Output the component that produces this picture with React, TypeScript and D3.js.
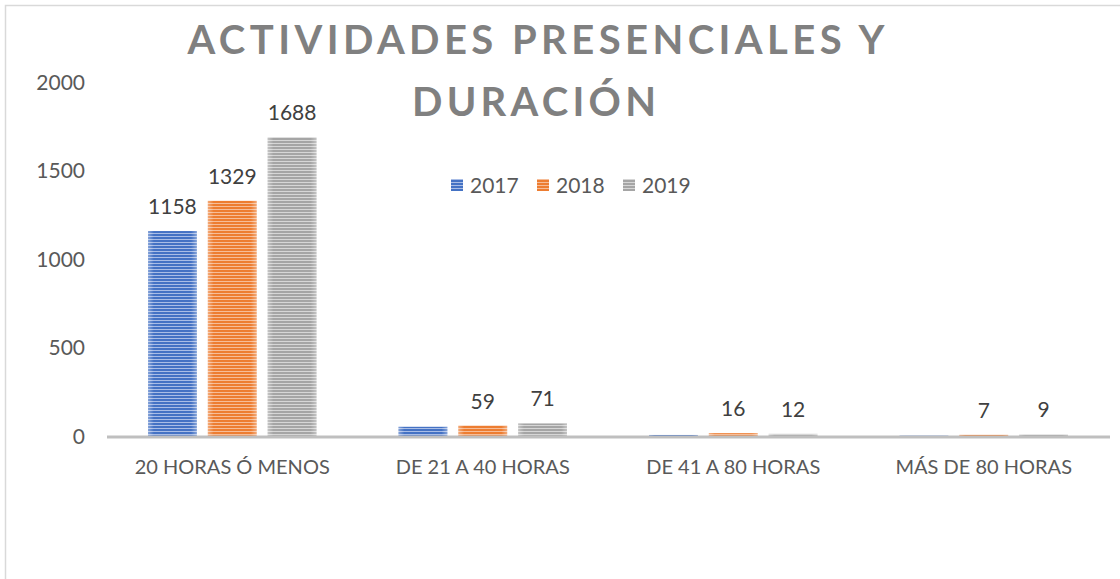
import React from "react";
import * as d3 from "d3";

const categories = ["20 HORAS Ó MENOS", "DE 21 A 40 HORAS", "DE 41 A 80 HORAS", "MÁS DE 80 HORAS"];
const seriesNames = ["2017", "2018", "2019"];
const values2017 = [1158, 52, 6, 2];
const values2018 = [1329, 59, 16, 7];
const values2019 = [1688, 71, 12, 9];
const showLabels2017 = [true, false, false, false];
const yTicks = [0, 500, 1000, 1500, 2000];
const titleLines = ["ACTIVIDADES PRESENCIALES Y", "DURACIÓN"];

const colors = ["#4472c4", "#ed7d31", "#a5a5a5"];
const lightColors = ["#a9bde6", "#f6bd98", "#d6d6d6"];

export default function App() {
  const W = 1120, H = 579;
  const x0 = d3.scaleBand<string>().domain(categories).range([107, 1109]).paddingInner(0).paddingOuter(0);
  const band = x0.bandwidth();
  const x1 = d3.scaleBand<string>().domain(seriesNames).range([41, band - 41]).paddingInner(11 / 60).paddingOuter(0);
  const y = d3.scaleLinear().domain([0, 2000]).range([436, 82]);
  const series = [values2017, values2018, values2019];
  const labelShown = [showLabels2017, categories.map(() => true), categories.map(() => true)];
  const font = "Lato, 'Open Sans', sans-serif";
  const textColor = "#595959";

  return (
    <svg width={W} height={H} style={{ position: "absolute", left: 0, top: 0, background: "#fff" }}>
      <defs>
        {colors.map((c, i) => (
          <pattern key={i} id={`stripe${i}`} width={4} height={3} patternUnits="userSpaceOnUse">
            <rect width={4} height={3} fill={c} />
            <rect y={2} width={4} height={1} fill={lightColors[i]} />
          </pattern>
        ))}
        <linearGradient id="edge" x1="0" x2="1" y1="0" y2="0">
          <stop offset="0" stopColor="#fff" stopOpacity={0.35} />
          <stop offset="0.12" stopColor="#fff" stopOpacity={0} />
          <stop offset="0.88" stopColor="#fff" stopOpacity={0} />
          <stop offset="1" stopColor="#fff" stopOpacity={0.35} />
        </linearGradient>
      </defs>
      <rect x={5.5} y={5.5} width={W + 20} height={H + 20} fill="#fff" stroke="#d9d9d9" strokeWidth={1.5} />

      {/* title */}
      <text x={536} y={54} textAnchor="middle" fontFamily={font} fontWeight={700} fontSize={40} fill="#808080"
        textLength={697} lengthAdjust="spacing">{titleLines[0]}</text>
      <text x={534} y={116} textAnchor="middle" fontFamily={font} fontWeight={700} fontSize={40} fill="#808080"
        textLength={244} lengthAdjust="spacing">{titleLines[1]}</text>

      {/* y tick labels */}
      {yTicks.map((t) => (
        <text key={t} x={85} y={y(t)} dy="0.36em" textAnchor="end" fontFamily={font} fontSize={21} fill={textColor}>{t}</text>
      ))}

      {/* bars */}
      {categories.map((cat, ci) => (
        <g key={cat} transform={`translate(${x0(cat)},0)`}>
          {seriesNames.map((s, si) => {
            const v = series[si][ci];
            const bx = x1(s)!;
            const bw = x1.bandwidth();
            const top = y(v);
            const h = y(0) - top;
            return (
              <g key={s}>
                {h > 0 && <rect x={bx} y={top} width={bw} height={h} fill={`url(#stripe${si})`} />}
                {h > 0 && <rect x={bx} y={top} width={bw} height={h} fill="url(#edge)" />}
                {labelShown[si][ci] && (
                  <text x={bx + bw / 2} y={top - 17} textAnchor="middle" fontFamily={font} fontSize={21} fill="#404040">{v}</text>
                )}
              </g>
            );
          })}
        </g>
      ))}

      {/* axis line */}
      <line x1={107} x2={1110} y1={437} y2={437} stroke="#bfbfbf" strokeWidth={3} />

      {/* category labels */}
      {categories.map((cat) => (
        <text key={cat} x={x0(cat)! + band / 2} y={467} dy="0.36em" textAnchor="middle" fontFamily={font} fontSize={20} fill={textColor}>{cat}</text>
      ))}

      {/* legend */}
      {seriesNames.map((s, i) => {
        const lx = [451, 537, 623][i];
        return (
          <g key={s}>
            <rect x={lx} y={179} width={12} height={12} fill={`url(#stripe${i})`} />
            <text x={lx + 19} y={185} dy="0.36em" fontFamily={font} fontSize={21} fill={textColor}>{s}</text>
          </g>
        );
      })}
    </svg>
  );
}
